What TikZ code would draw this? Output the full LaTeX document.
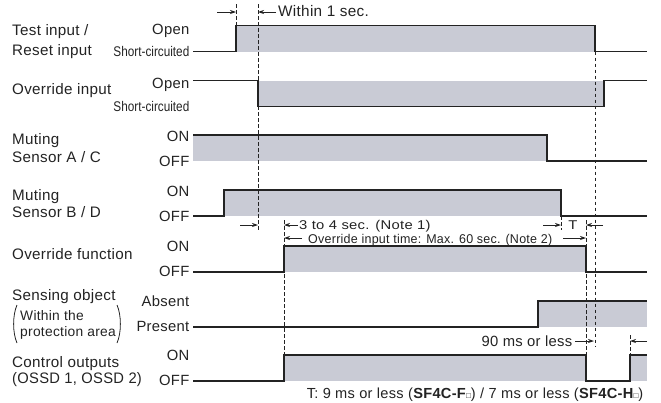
\documentclass[tikz,border=0pt]{standalone}
\usepackage{fontspec}
\setmainfont[LetterSpace=2]{Liberation Sans}
\newfontfamily\plainfont{Liberation Sans}
\usetikzlibrary{arrows.meta}
\definecolor{shade}{RGB}{201,203,213}
\definecolor{ink}{RGB}{35,35,35}
\tikzset{
  wave/.style={draw=ink, line width=1.3pt, line join=miter},
  band/.style={fill=shade, draw=none},
  guide/.style={draw=ink, line width=0.7pt, dash pattern=on 3.5pt off 2.5pt},
  dim/.style={draw=ink, line width=0.8pt, -{Stealth[length=6pt,width=4pt]}},
  lbl/.style={inner sep=0pt, anchor=base west, text=ink, font=\fontsize{15.2}{17}\selectfont},
  lvl/.style={inner sep=0pt, anchor=base east, text=ink, font=\fontsize{14.8}{16}\selectfont},
  note/.style={inner sep=0pt, text=ink, font=\fontsize{14.8}{16}\selectfont},
}
\newcommand{\shortc}{\scalebox{0.84}[1]{\plainfont\fontsize{14}{16}\selectfont Short-circuited}}
\newcommand{\sq}{{\plainfont\fontsize{8}{8}\selectfont □}}
\begin{document}
\begin{tikzpicture}[x=1pt,y=-1pt]
\useasboundingbox (0,0) rectangle (661,402);
% shaded bands
\fill[band] (236,25.5) rectangle (595,51.5);
\fill[band] (258,80.5) rectangle (604,106.5);
\fill[band] (193,135) rectangle (547,161);
\fill[band] (224,190) rectangle (561,216);
\fill[band] (284,246) rectangle (586,272);
\fill[band] (538,301) rectangle (647,327);
\fill[band] (284,355) rectangle (586,381);
\fill[band] (630,355) rectangle (647,381);
% guide lines
\draw[guide] (236,4) -- (236,25.5);
\draw[guide] (258,4) -- (258,230);
\draw[guide] (595,51.5) -- (595,346);
\draw[guide] (561,216) -- (561,230);
\draw[guide] (284,220) -- (284,355);
\draw[guide] (586,220) -- (586,355);
\draw[guide] (630,335) -- (630,355);
% waveforms
\draw[wave] (193,51.5) -- (236,51.5) -- (236,25.5) -- (595,25.5) -- (595,51.5) -- (647,51.5);
\draw[wave] (193,80.5) -- (258,80.5) -- (258,106.5) -- (604,106.5) -- (604,80.5) -- (647,80.5);
\draw[wave] (193,135) -- (547,135) -- (547,161) -- (647,161);
\draw[wave] (193,216) -- (224,216) -- (224,190) -- (561,190) -- (561,216) -- (647,216);
\draw[wave] (193,272) -- (284,272) -- (284,246) -- (586,246) -- (586,272) -- (647,272);
\draw[wave] (193,327) -- (538,327) -- (538,301) -- (647,301);
\draw[wave] (193,381) -- (284,381) -- (284,355) -- (586,355) -- (586,381) -- (630,381) -- (630,355) -- (647,355);
% left labels
\node[lbl] (l1a) at (12,35) {Test input /};
\node[lbl] (l1b) at (12,55.5) {Reset input};
\node[lbl] (l2) at (12,94) {Override input};
\node[lbl] (l3a) at (12,144) {Muting};
\node[lbl] (l3b) at (12,162) {Sensor A / C};
\node[lbl] (l4a) at (12,200) {Muting};
\node[lbl] (l4b) at (12,217.5) {Sensor B / D};
\node[lbl] (l5) at (12,259) {Override function};
\node[lbl] (l6a) at (12,300) {Sensing object};
\node[lbl, font=\fontsize{13.8}{15}\selectfont] (l6b) at (20,320) {Within the};
\node[lbl, font=\fontsize{13.8}{15}\selectfont] (l6c) at (20,336) {protection area};
\draw[ink, line width=0.8pt] (17,305) .. controls (12.5,315) and (12.5,333) .. (17,343);
\draw[ink, line width=0.8pt] (117,305) .. controls (121.5,315) and (121.5,333) .. (117,343);
\node[lbl] (l7a) at (12,367) {Control outputs};
\node[lbl] (l7b) at (12,383.5) {\scalebox{0.97}[1]{(OSSD 1, OSSD 2)}};
% level labels
\node[lvl] (v1a) at (189.5,34.3) {Open};
\node[lvl] (v1b) at (189.5,56.7) {\shortc};
\node[lvl] (v2a) at (189.5,88.5) {Open};
\node[lvl] (v2b) at (189.5,111.5) {\shortc};
\node[lvl] (v3a) at (189.5,141.7) {ON};
\node[lvl] (v3b) at (189.5,166.7) {OFF};
\node[lvl] (v4a) at (189.5,196) {ON};
\node[lvl] (v4b) at (189.5,221.7) {OFF};
\node[lvl] (v5a) at (189.5,251.7) {ON};
\node[lvl] (v5b) at (189.5,276) {OFF};
\node[lvl] (v6a) at (189.5,306.7) {Absent};
\node[lvl] (v6b) at (189.5,331.7) {Present};
\node[lvl] (v7a) at (189.5,360) {ON};
\node[lvl] (v7b) at (189.5,385) {OFF};
% dimension arrows
\coordinate (a1s) at (217,12); \coordinate (a1e) at (236,12);
\coordinate (a2s) at (276,12); \coordinate (a2e) at (258,12);
\draw[dim] (a1s) -- (a1e);
\draw[dim] (a2s) -- (a2e);
\node[note, anchor=base west, font=\fontsize{15.3}{17}\selectfont] (w1) at (278,16.7) {Within 1 sec.};
\coordinate (b1s) at (240,225); \coordinate (b1e) at (258,225);
\draw[dim] (b1s) -- (b1e);
\coordinate (b2s) at (298,225); \coordinate (b2e) at (284,225);
\draw[dim] (b2s) -- (b2e);
\node[note, anchor=base west] (n1) at (299,229.5) {\scalebox{1}[0.86]{3 to 4 sec. (Note 1)}};
\coordinate (b3s) at (543,225); \coordinate (b3e) at (561,225);
\draw[dim] (b3s) -- (b3e);
\node[note, anchor=base] (tt) at (573,229.5) {\scalebox{1}[0.86]{T}};
\coordinate (b4s) at (603,225); \coordinate (b4e) at (586,225);
\draw[dim] (b4s) -- (b4e);
\coordinate (c1s) at (302,238); \coordinate (c1e) at (284,238);
\draw[dim] (c1s) -- (c1e);
\node[note, anchor=base west] (n2) at (308,243) {\resizebox{244pt}{0.86\height}{Override input time: Max. 60 sec. (Note 2)}};
\coordinate (c2s) at (563,238); \coordinate (c2e) at (586,238);
\draw[dim] (c2s) -- (c2e);
\node[note, anchor=base east] (n3) at (572.5,346.5) {90 ms or less};
\coordinate (d1s) at (575,341); \coordinate (d1e) at (594,341);
\draw[dim] (d1s) -- (d1e);
\coordinate (d2s) at (647,341); \coordinate (d2e) at (630,341);
\draw[dim] (d2s) -- (d2e);
\node[note, anchor=base east, font=\fontsize{14.6}{16}\selectfont] (ft) at (643.5,398) {T: 9 ms or less (\textbf{SF4C-F}\sq) / 7 ms or less (\textbf{SF4C-H}\sq)};
\end{tikzpicture}
\end{document}
